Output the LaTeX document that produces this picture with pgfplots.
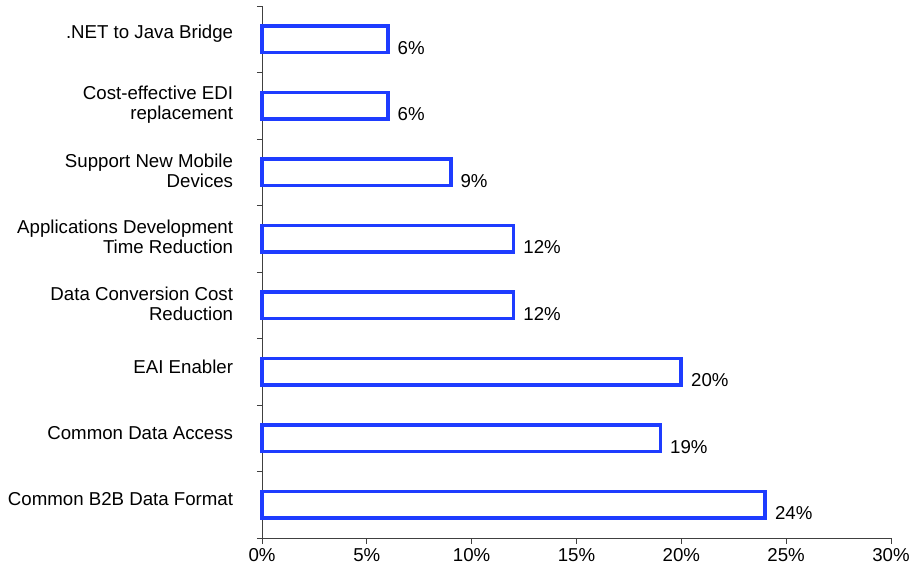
\documentclass[border=0pt]{standalone}
\usepackage{pgfplots}
\pgfplotsset{compat=1.18}
\usepackage{fontspec}
\setmainfont{Liberation Sans}
\definecolor{barblue}{RGB}{30,60,255}
% taller first line: centres the two-line labels a little lower, as in the original
\newcommand{\up}{\rule{0pt}{16pt}}
\begin{document}
\fontsize{14pt}{15pt}\selectfont
\begin{tikzpicture}
    \useasboundingbox (-196.5pt,-24.75pt) rectangle (489pt,403.5pt);
    \begin{axis}[
        at={(0,0)}, anchor=south west,
        scale only axis,
        width=471.75pt, height=399pt,
        xbar, xmin=0, xmax=30,
        ymin=-0.5, ymax=7.5,
        axis lines*=left,
        axis line style={black!75, line width=0.7pt},
        xtick={0,5,...,30},
        xticklabel={\pgfmathprintnumber{\tick}\%},
        ytick={0,...,7},
        yticklabels={
            {Common B2B Data Format},
            {Common Data Access},
            {EAI Enabler},
            {\up Data Conversion Cost\\Reduction},
            {\up Applications Development\\Time Reduction},
            {\up Support New Mobile\\Devices},
            {\up Cost-effective EDI\\replacement},
            {.NET to Java Bridge}
        },
        minor ytick={-0.5,0.5,...,7.5},
        major y tick style={draw=none},
        tick align=outside,
        major tick length=4.5pt,
        minor tick length=3.75pt,
        tick style={black!75, line width=0.7pt},
        yticklabel style={align=right, inner sep=0pt, anchor=east, xshift=-17pt, yshift=4pt},
        xticklabel style={inner sep=0pt, anchor=north, yshift=-3pt},
        /pgf/number format/assume math mode=true,
        bar width=20pt,
        point meta=x,
        nodes near coords={\pgfmathprintnumber{\pgfplotspointmeta}\%},
        nodes near coords style={anchor=west, inner sep=0pt, xshift=6pt, yshift=-6.5pt, black},
        clip=false
    ]
    \addplot[draw=barblue, fill=white, line width=2.8pt] coordinates {
        (24,0)
        (19,1)
        (20,2)
        (12,3)
        (12,4)
        (9,5)
        (6,6)
        (6,7)
    };
    \end{axis}
\end{tikzpicture}
\end{document}
